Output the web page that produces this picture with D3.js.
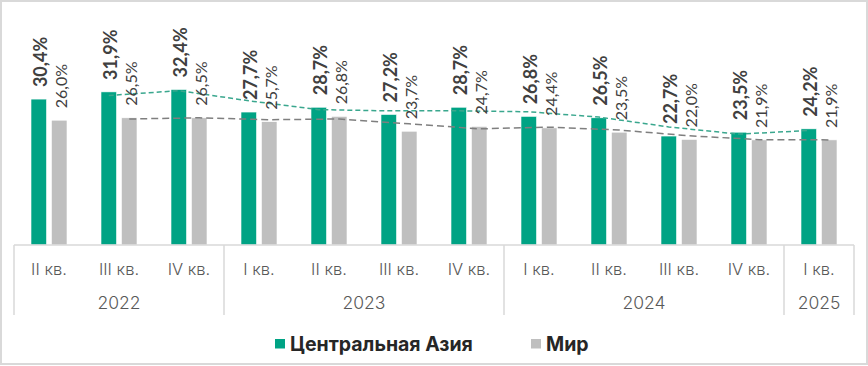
<!DOCTYPE html>
<html>
<head>
<meta charset="utf-8">
<script src="https://cdn.jsdelivr.net/npm/d3@7"></script>
<style>
  html, body { margin: 0; padding: 0; background: #ffffff; }
  svg { display: block; }
</style>
</head>
<body>
<svg id="chart" width="868" height="366"></svg>
<script>
// ---- data ----
const quarters = ["II кв.", "III кв.", "IV кв.", "I кв.", "II кв.", "III кв.", "IV кв.", "I кв.", "II кв.", "III кв.", "IV кв.", "I кв."];
const yearLabels = ["2022", "2023", "2024", "2025"];
const yearSpans = [3, 4, 4, 1];
const centralAsia = [30.4, 31.9, 32.4, 27.7, 28.7, 27.2, 28.7, 26.8, 26.5, 22.7, 23.5, 24.2];
const world = [26.0, 26.5, 26.5, 25.7, 26.8, 23.7, 24.7, 24.4, 23.5, 22.0, 21.9, 21.9];
const seriesNames = ["Центральная Азия", "Мир"];

// ---- styles ----
const GREEN = "#00a384";
const GRAY = "#bfbfbf";
const GREEN_TREND = "#3aa78e";
const GRAY_TREND = "#7f7f7f";
const TEXT = "#404040";
const AXIS_TEXT = "#595959";
const LINE = "#d9d9d9";

const svg = d3.select("#chart");
const W = 868, H = 366;

// outer frame
svg.append("rect").attr("x", 1).attr("y", 1).attr("width", W - 2).attr("height", H - 3)
  .attr("fill", "#fff").attr("stroke", LINE).attr("stroke-width", 2);

const idx = d3.range(quarters.length);
const x0 = d3.scaleBand().domain(idx).range([14, 854]).paddingInner(0).paddingOuter(0);
const x1 = d3.scaleBand().domain([0, 1]).range([17, 53]).paddingInner(0.24).paddingOuter(0);
const y = d3.scaleLinear().domain([0, 35]).range([245, 245 - 35 * 4.8]);

const fmt = v => d3.format(".1f")(v).replace(".", ",") + "%";

// bars
const data = [centralAsia, world];
const colors = [GREEN, GRAY];
data.forEach((vals, s) => {
  svg.append("g").selectAll("rect").data(vals).join("rect")
    .attr("x", (d, i) => x0(i) + x1(s))
    .attr("y", d => y(d))
    .attr("width", x1.bandwidth())
    .attr("height", d => y(0) - y(d))
    .attr("fill", colors[s])
    .attr("stroke", "#ffffff").attr("stroke-width", 0.6);
});

// moving-average (period 2) trendlines, as in the source chart
function movingAverage(vals) {
  return vals.map((v, i) => i === 0 ? null : (vals[i - 1] + v) / 2);
}
const trendColors = [GREEN_TREND, GRAY_TREND];
const dashes = ["5,3", "7,4"];
data.forEach((vals, s) => {
  const ma = movingAverage(vals).map((v, i) => ({ i, v })).filter(d => d.v !== null);
  const line = d3.line().x(d => x0(d.i) + x1(s) + x1.bandwidth() / 2).y(d => y(d.v));
  svg.append("path").datum(ma).attr("d", line)
    .attr("fill", "none").attr("stroke", trendColors[s])
    .attr("stroke-width", 1.5).attr("stroke-dasharray", dashes[s]);
});

// value labels (rotated)
data.forEach((vals, s) => {
  svg.append("g").selectAll("text").data(vals).join("text")
    .attr("transform", (d, i) => {
      const cx = x0(i) + x1(s) + x1.bandwidth() / 2 + 1;
      const cy = y(d) - 12;
      return `translate(${cx},${cy}) rotate(-90)`;
    })
    .attr("dominant-baseline", "central")
    .attr("text-anchor", "start")
    .attr("font-family", "Lato, 'Open Sans', sans-serif")
    .attr("font-size", s === 0 ? 18 : 16)
    .attr("font-weight", s === 0 ? "bold" : "normal")
    .attr("fill", TEXT)
    .text(d => fmt(d));
});

// category axis
const axisY = 245;
svg.append("line").attr("x1", 14).attr("x2", 854).attr("y1", axisY).attr("y2", axisY)
  .attr("stroke", LINE).attr("stroke-width", 1.5);

// quarter labels
svg.append("g").selectAll("text").data(quarters).join("text")
  .attr("x", (d, i) => x0(i) + x0.bandwidth() / 2)
  .attr("y", 269)
  .attr("text-anchor", "middle").attr("dominant-baseline", "central")
  .attr("font-family", "Inter, 'Noto Sans', sans-serif")
  .attr("font-size", 16.5).attr("font-weight", 300).attr("fill", AXIS_TEXT)
  .text(d => d);

// year groups
const bounds = [0];
yearSpans.forEach(n => bounds.push(bounds[bounds.length - 1] + n));
svg.append("g").selectAll("line").data(bounds).join("line")
  .attr("x1", b => b < quarters.length ? x0(b) : x0(quarters.length - 1) + x0.bandwidth())
  .attr("x2", b => b < quarters.length ? x0(b) : x0(quarters.length - 1) + x0.bandwidth())
  .attr("y1", axisY).attr("y2", 315)
  .attr("stroke", LINE).attr("stroke-width", 1.5);

svg.append("g").selectAll("text").data(yearLabels).join("text")
  .attr("x", (d, k) => {
    const a = x0(bounds[k]);
    const b = x0(bounds[k + 1] - 1) + x0.bandwidth();
    return (a + b) / 2;
  })
  .attr("y", 302)
  .attr("text-anchor", "middle").attr("dominant-baseline", "central")
  .attr("font-family", "Inter, 'Noto Sans', sans-serif")
  .attr("font-size", 17.5).attr("font-weight", 300).attr("fill", AXIS_TEXT)
  .text(d => d);

// legend
const legendX = [275, 531];
seriesNames.forEach((name, s) => {
  const g = svg.append("g").attr("transform", `translate(${legendX[s]},343.5)`);
  g.append("rect").attr("x", 0).attr("y", -4.5).attr("width", 10).attr("height", 9.5).attr("fill", colors[s]);
  g.append("text").attr("x", 15).attr("y", 0).attr("dominant-baseline", "central")
    .attr("font-family", "Inter, 'Noto Sans', sans-serif")
    .attr("font-size", 19.5).attr("font-weight", "bold").attr("fill", "#262626")
    .text(name);
});
</script>
</body>
</html>
